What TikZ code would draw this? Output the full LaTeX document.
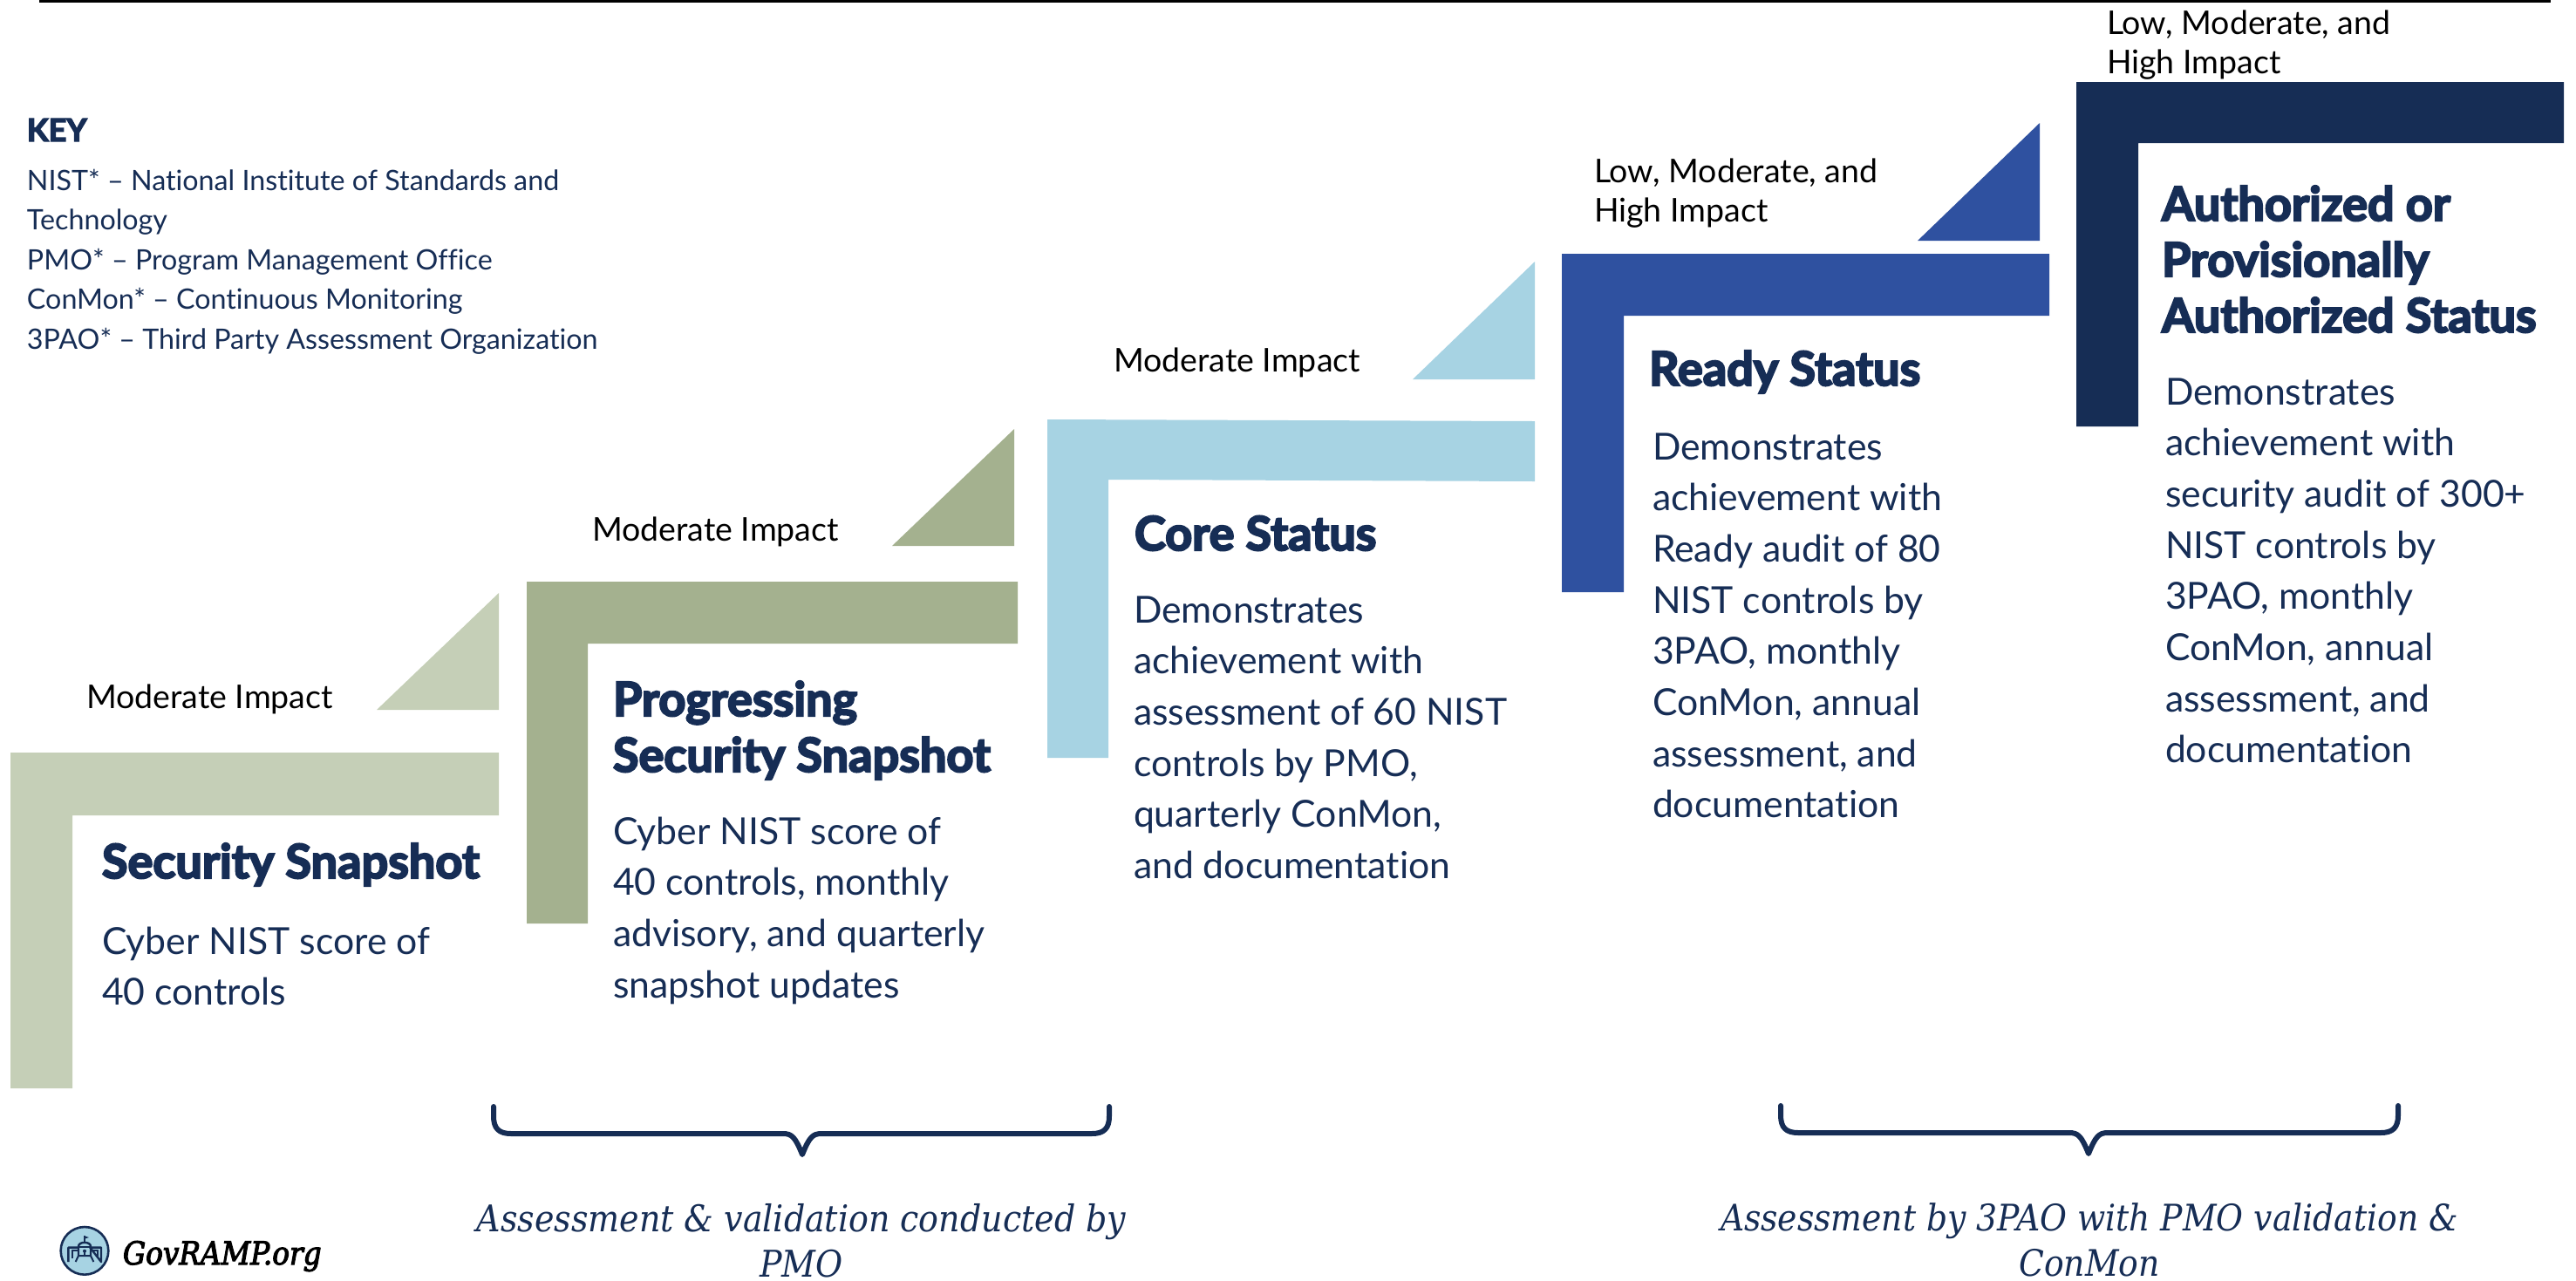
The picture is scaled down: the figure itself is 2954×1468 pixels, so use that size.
\documentclass[tikz,border=0pt]{standalone}
\usepackage{fontspec}
\setmainfont{Lato}[Ligatures=NoCommon]
\newfontfamily\headf{Lato}[Ligatures=NoCommon,BoldFeatures={FakeBold=4}]
\newfontfamily\slabf{DejaVu Serif Condensed}
\newfontfamily\logof{DejaVu Serif Condensed}[ItalicFeatures={FakeBold=3}]
\definecolor{navy}{HTML}{162D55}
\definecolor{sage}{HTML}{C5CFB7}
\definecolor{olive}{HTML}{A4B18F}
\definecolor{sky}{HTML}{A7D3E3}
\definecolor{royal}{HTML}{2F51A0}
\newcommand{\sr}{\rule{0pt}{30pt}}
\tikzset{
  base text/.style={inner sep=0pt,outer sep=0pt,anchor=north west,align=left,yshift=30pt},
  body/.style={base text,text=navy,font=\fontsize{21.35}{29.35}\selectfont},
  heading/.style={base text,text=navy,font=\fontsize{27}{32}\headf\bfseries\selectfont},
  impact/.style={base text,text=black,font=\fontsize{18.75}{22.5}\selectfont},
  keytext/.style={base text,text=navy,font=\fontsize{16.12}{22.75}\selectfont},
  keyhead/.style={base text,text=navy,font=\fontsize{18}{22}\headf\bfseries\selectfont},
  slab/.style={inner sep=0pt,outer sep=0pt,anchor=north,align=center,yshift=30pt,text=navy,font=\fontsize{21.1}{26}\slabf\itshape\selectfont},
  logotext/.style={base text,text=black,font=\fontsize{18.2}{20}\logof\itshape\selectfont},
  bracestroke/.style={draw=navy,line width=3pt,line cap=round,line join=round},
}
\newcommand{\stepshape}[7]{% colour, left, inner, right, top, barbottom, bottom
  \fill[#1] (#2,#5) -- (#4,#5) -- (#4,#6) -- (#3,#6) -- (#3,#7) -- (#2,#7) -- cycle;}
\begin{document}
\begin{tikzpicture}[x=0.5pt,y=-0.5pt]
\useasboundingbox (0,0) rectangle (2954,1468);
% top rule
\fill[black] (45,0) rectangle (2925,2.5);
% step shapes
\stepshape{sage}{12}{83}{572}{863}{935}{1248}
\stepshape{olive}{604}{674}{1167}{667}{738}{1059}
\fill[sky] (1201,481) -- (1760,483) -- (1760,552) -- (1271,550) -- (1271,869) -- (1201,869) -- cycle;
\stepshape{royal}{1791}{1862}{2350}{291}{362}{679}
\stepshape{navy}{2381}{2452}{2940}{94}{164}{489}
% triangles
\fill[sage] (432,814) -- (572,814) -- (572,680) -- cycle;
\fill[olive] (1023,626) -- (1163,626) -- (1163,492) -- cycle;
\fill[sky] (1620,435) -- (1760,435) -- (1760,300) -- cycle;
\fill[royal] (2199,276) -- (2339,276) -- (2339,141) -- cycle;
% key
\node[keyhead] (keyh) at (31,162) {\sr KEY};
\node[keytext] (keyb) at (31,218) {\sr NIST* -- National Institute of Standards and\\Technology\\PMO* -- Program Management Office\\ConMon* -- Continuous Monitoring\\3PAO* -- Third Party Assessment Organization};
% impact labels
\node[impact] (i1) at (99,812) {\sr Moderate Impact};
\node[impact] (i2) at (679,620) {\sr Moderate Impact};
\node[impact] (i3) at (1277,426) {\sr Moderate Impact};
\node[impact] (i4) at (1828,209) {\sr Low, Moderate, and\\High Impact};
\node[impact] (i5) at (2416,39) {\sr Low, Moderate, and\\High Impact};
% headings
\node[heading] (h1) at (117,1007) {\sr Security Snapshot};
\node[heading] (h2) at (703,821) {\sr Progressing\\Security Snapshot};
\node[heading] (h3) at (1301,631) {\sr Core Status};
\node[heading] (h4) at (1891,442) {\sr Ready Status};
\node[heading] (h5) at (2479,253) {\sr Authorized or\\Provisionally\\Authorized Status};
% bodies
\node[body] (b1) at (117,1094) {\sr Cyber NIST score of\\40 controls};
\node[body] (b2) at (703,968) {\sr Cyber NIST score of\\40 controls, monthly\\advisory, and quarterly\\snapshot updates};
\node[body] (b3) at (1300,714) {\sr Demonstrates\\achievement with\\assessment of 60 NIST\\controls by PMO,\\quarterly ConMon,\\and documentation};
\node[body] (b4) at (1895,527) {\sr Demonstrates\\achievement with\\Ready audit of 80\\NIST controls by\\3PAO, monthly\\ConMon, annual\\assessment, and\\documentation};
\node[body] (b5) at (2483,464) {\sr Demonstrates\\achievement with\\security audit of 300+\\NIST controls by\\3PAO, monthly\\ConMon, annual\\assessment, and\\documentation};
% braces
\draw[bracestroke] (566,1269) -- (566,1280) .. controls (566,1294) and (572,1300) .. (586,1300) -- (898,1300) .. controls (908,1300) and (912,1304) .. (920,1324) .. controls (928,1304) and (932,1300) .. (942,1300) -- (1252,1300) .. controls (1266,1300) and (1272,1294) .. (1272,1280) -- (1272,1269);
\draw[bracestroke] (2042,1268) -- (2042,1279) .. controls (2042,1293) and (2048,1299) .. (2062,1299) -- (2373,1299) .. controls (2383,1299) and (2387,1303) .. (2395,1323) .. controls (2403,1303) and (2407,1299) .. (2417,1299) -- (2730,1299) .. controls (2744,1299) and (2750,1293) .. (2750,1279) -- (2750,1268);
% captions
\node[slab] (c1) at (919,1412) {\sr Assessment \& validation conducted by\\PMO};
\node[slab,font=\fontsize{20.95}{26}\slabf\itshape\selectfont] (c2) at (2396,1411) {\sr Assessment by 3PAO with PMO validation \&\\ConMon};
% logo
\begin{scope}[shift={(50,1390)},x=0.16667pt,y=-0.16667pt]
  \filldraw[fill=sky,draw=navy,line width=1.3pt] (141,133) circle[radius=82];
  \draw[navy,line width=1.2pt,line join=round] (85,171) -- (85,122) -- (122,122) (160,122) -- (198,122) -- (198,171) -- cycle;
  \draw[navy,line width=1pt] (98,160) -- (98,133) -- (122,133) (160,133) -- (185,133) -- (185,160);
  \draw[navy,line width=1.2pt] (120,150) -- (120,118) .. controls (120,100) and (162,100) .. (162,118) -- (162,150);
  \draw[navy,line width=1pt] (118,120) -- (164,120) (141,104) -- (141,82);
  \fill[navy] (141,82) -- (156,87) -- (141,92) -- cycle;
  \fill[navy] (141,134) circle[radius=6];
  \fill[navy] (139,134) rectangle (143,150);
  \draw[navy,line width=1pt] (120,150) -- (162,150) -- (172,171) (120,150) -- (110,171);
\end{scope}
\node[logotext] (logo) at (141,1450) {\sr GovRAMP.org};
\end{tikzpicture}
\end{document}
